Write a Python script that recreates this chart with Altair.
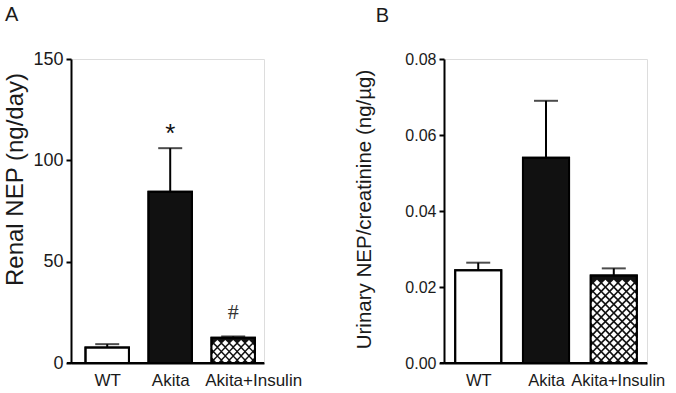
import json
import altair as alt
import pandas as pd

# Group labels and measured values (mean and upper SEM)
groups = ["WT", "Akita", "Akita+Insulin"]
renal_nep = [7.7, 84.5, 12.5]             # ng/day
renal_nep_err = [1.6, 21.5, 0.6]
urinary_ratio = [0.0244, 0.0540, 0.0230]  # ng/µg
urinary_ratio_err = [0.0020, 0.0150, 0.0019]
renal_sig = ["", "*", "#"]
urinary_sig = ["", "", ""]

FONT = "Liberation Sans"
INK = "#1a1a1a"
PLOT_H = 304
HATCH_COLS = 11


def hatch_cells(idx, value, half_w, ymax, pitch_px=4.3, half_px=3.0):
    """Staggered lattice of diamond holes that fills a cross-hatched bar."""
    to_data = ymax / PLOT_H
    rows = []
    j = 0
    while True:
        yc = (2.8 + j * pitch_px) * to_data
        if yc + half_px * to_data > value - 0.5 * to_data:
            break
        for c in range(1 if j % 2 == 0 else 0, HATCH_COLS, 2):
            xc = idx - half_w + (c + 0.5) * 2 * half_w / HATCH_COLS
            rows.append({"x": xc, "y": yc})
        j += 1
    return pd.DataFrame(rows)


def panel(values, errs, sig, ymax, ticks, fmt, ytitle, letter, width, xdomain, half_w,
          tick_fs, xlab_fs, title_fs, title_pad, title_y, last_label_shift, letter_dx):
    idx = list(range(len(groups)))
    df = pd.DataFrame({"idx": idx, "group": groups, "value": values, "err": errs, "sig": sig})
    df["x0"] = df["idx"] - half_w
    df["x1"] = df["idx"] + half_w
    df["top"] = df["value"] + df["err"]

    names = json.dumps(groups)
    xscale = alt.Scale(domain=xdomain, nice=False, zero=False)
    yscale = alt.Scale(domain=[0, ymax], nice=False, zero=True)

    x_axis = alt.Axis(
        title=None, values=idx, labelExpr=f"{names}[datum.value]", labelAngle=0,
        ticks=False, grid=False, labelPadding=9, labelOverlap=False,
        labelFlush=False, labelFontSize=xlab_fs, labelFont=FONT, labelColor=INK,
        labelOffset={"condition": {"test": "datum.value === 2", "value": last_label_shift},
                     "value": 0},
        domain=True, domainColor="#000000", domainWidth=2, zindex=2,
    )
    y_axis = alt.Axis(
        title=ytitle, values=ticks, format=fmt, grid=False,
        labelFontSize=tick_fs, labelFont=FONT, labelColor=INK, labelPadding=3,
        tickSize=5, tickWidth=2, tickColor="black", domainColor="black", domainWidth=2,
        titleFontSize=title_fs, titleFont=FONT, titleFontWeight="normal",
        titleColor=INK, titlePadding=title_pad, titleAnchor="middle", titleY=title_y,
    )

    base = alt.Chart(df)
    bars = base.mark_bar(stroke="black", strokeWidth=2).encode(
        x=alt.X("x0:Q", scale=xscale, axis=x_axis),
        x2="x1:Q",
        y=alt.Y("value:Q", scale=yscale, axis=y_axis),
        y2=alt.datum(0),
        fill=alt.Fill("group:N",
                      scale=alt.Scale(domain=groups, range=["white", "#111111", "#111111"]),
                      legend=None),
    )

    holes = alt.Chart(hatch_cells(2, values[2], half_w, ymax)).mark_point(
        shape="diamond", filled=True, fill="white", size=38, opacity=1, strokeWidth=0
    ).encode(x="x:Q", y="y:Q")

    outline = base.mark_bar(fillOpacity=0, stroke="black", strokeWidth=2).encode(
        x="x0:Q", x2="x1:Q", y="value:Q", y2=alt.datum(0)
    )

    # category-axis baseline, reaching a few pixels past the value axis
    baseline = base.mark_rect(color="#000000").encode(
        x=alt.value(-4), x2=alt.value(width),
        y=alt.value(PLOT_H - 1), y2=alt.value(PLOT_H + 1),
    )

    err_line = base.mark_rule(color="black", strokeWidth=2).encode(
        x="idx:Q", y="value:Q", y2="top:Q"
    )
    err_cap = base.mark_tick(color="black", size=24, thickness=2, orient="horizontal").encode(
        x="idx:Q", y="top:Q"
    )

    star = alt.Chart(df[df["sig"] == "*"]).mark_text(
        font=FONT, fontSize=26, dy=-14, color="#111111"
    ).encode(x="idx:Q", y="top:Q", text="sig:N")
    hash_ = alt.Chart(df[df["sig"] == "#"]).mark_text(
        font="Liberation Serif", fontSize=22, dy=-24, color="#333333"
    ).encode(x="idx:Q", y="top:Q", text="sig:N")

    return alt.layer(bars, holes, outline, baseline, err_line, err_cap, star, hash_).properties(
        width=width, height=PLOT_H,
        title=alt.TitleParams(letter, anchor="start", frame="bounds", fontSize=20,
                              fontWeight="normal", font=FONT, color=INK, offset=25,
                              dx=letter_dx),
    )


left = panel(renal_nep, renal_nep_err, renal_sig, 150, [0, 50, 100, 150], "d",
             "Renal NEP (ng/day)", "A", 193, [-0.575, 2.489], 0.345,
             tick_fs=18, xlab_fs=17, title_fs=24, title_pad=5, title_y=120,
             last_label_shift=20, letter_dx=1)
right = panel(urinary_ratio, urinary_ratio_err, urinary_sig, 0.08,
              [0, 0.02, 0.04, 0.06, 0.08], ".2f",
              "Urinary NEP/creatinine (ng/µg)", "B", 203, [-0.505, 2.49], 0.34,
              tick_fs=16, xlab_fs=16.5, title_fs=20.5, title_pad=30, title_y=150,
              last_label_shift=4, letter_dx=21)

chart = alt.hconcat(left, right, spacing=51).properties(
    padding={"left": 3, "top": 4, "right": 2, "bottom": 2}
).configure_view(stroke=None).configure(background="white")

chart.save("out.html", embed_options={"renderer": "svg", "actions": False})
